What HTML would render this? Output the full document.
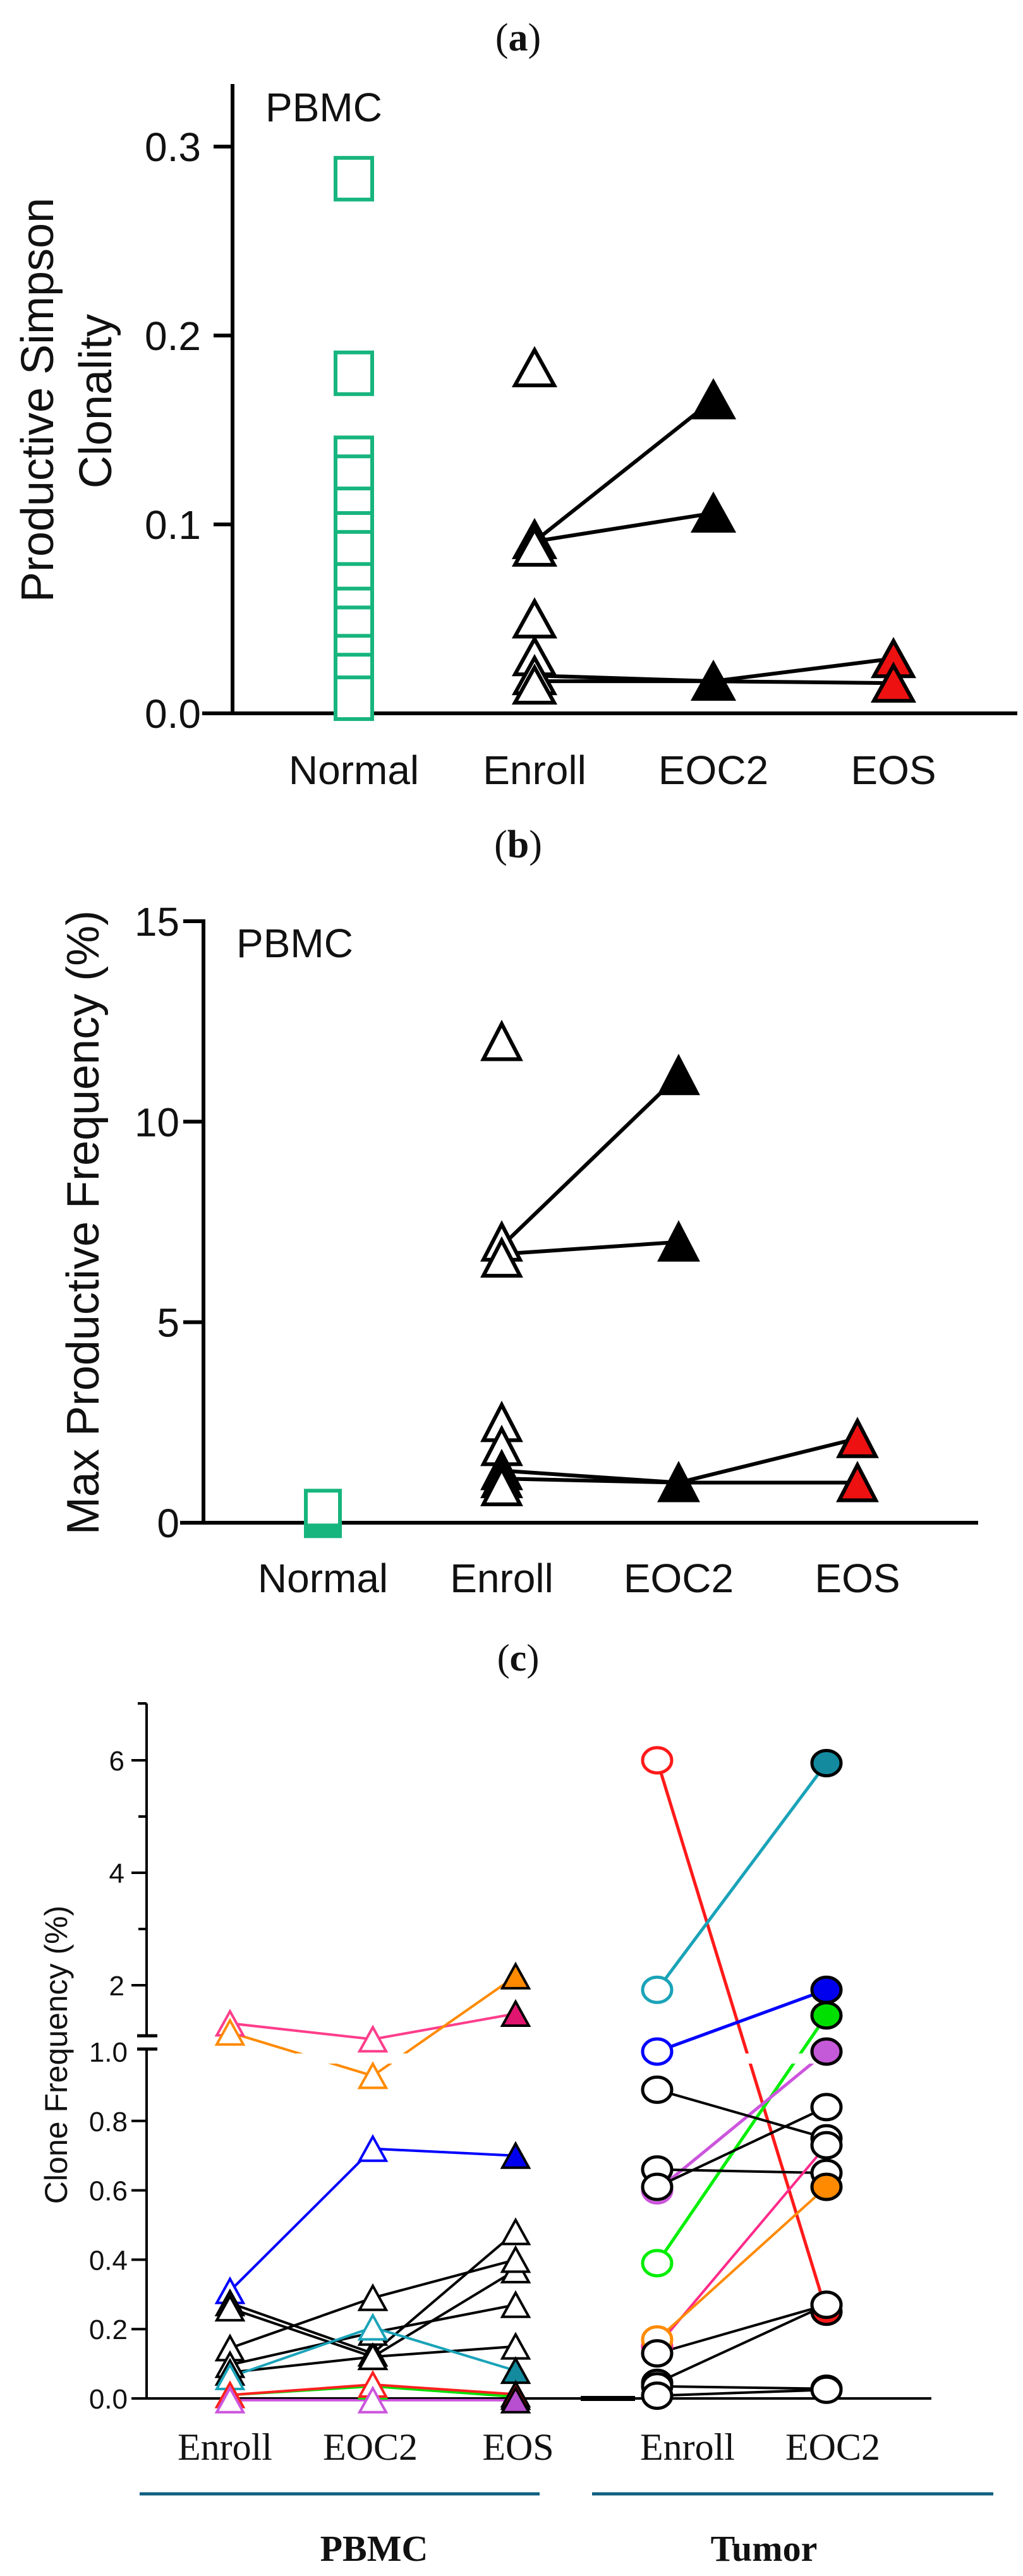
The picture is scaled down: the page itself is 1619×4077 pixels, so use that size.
<!DOCTYPE html>
<html><head><meta charset="utf-8"><style>
html,body{margin:0;padding:0;background:#fff}
svg{display:block}
text{font-family:"Liberation Sans",sans-serif;fill:#111}
.serif{font-family:"Liberation Serif",serif}
</style></head><body>
<svg id="fig" width="1619" height="4077" viewBox="0 0 1619 4077" xmlns="http://www.w3.org/2000/svg">
<g id="pa"></g>
<g id="pb"></g>
<g id="pc"></g>
</svg>
<script>
// ---------- Panel (a) data ----------
const aCategories = ["Normal","Enroll","EOC2","EOS"];
const aTicks = [0,0.1,0.2,0.3];
const aTickLabels = ["0.0","0.1","0.2","0.3"];
const aNormal = [0.283,0.18,0.135,0.125,0.108,0.095,0.085,0.068,0.055,0.045,0.03,0.02,0.008];
const aEnroll = [0.183,0.092,0.088,0.05,0.03,0.02,0.015];
const aEOC2 = [0.166,0.106,0.017];
const aEOS = [0.029,0.016];
const aLinks = [[0.091,0.166,null],[0.091,0.106,null],[0.02,0.017,0.029],[0.017,0.017,0.016]];

// ---------- Panel (b) data ----------
const bCategories = ["Normal","Enroll","EOC2","EOS"];
const bTicks = [0,5,10,15];
const bTickLabels = ["0","5","10","15"];
const bNormal = [0.2];
const bEnroll = [12.0,7.0,6.6,2.5,1.9,1.3,1.1,0.9];
const bEOC2 = [11.15,7.0,1.0];
const bEOS = [2.1,1.0];
const bLinks = [[6.9,11.15,null],[6.7,7.0,null],[1.3,1.0,2.1],[1.1,1.0,1.0]];

// ---------- Panel (c) data ----------
const cCategories = ["Enroll","EOC2","EOS","Enroll","EOC2"];
const cTicksLow = [0,0.2,0.4,0.6,0.8,1.0];
const cTickLabelsLow = ["0.0","0.2","0.4","0.6","0.8","1.0"];
const cTicksHigh = [2,4,6];
const cTickLabelsHigh = ["2","4","6"];
const cMinorHigh = [3,5,7];
// PBMC series: [Enroll, EOC2, EOS]
const cPbmcColors = ["#ff3d8b","#ff8a00","#0000ff","#000","#000","#000","#000","#000","#1aa3b8","#00e000","#ff2020","#cc55dd"];
const cPbmcFill = ["#e0156f","#ff8a00","#0000ee","#fff","#fff","#fff","#fff","#fff","#138a9e","#00c000","#ff2020","#b84fd0"];
const cPbmcValues = [
 [1.33,1.05,1.5],
 [1.17,0.93,2.16],
 [0.31,0.72,0.70],
 [0.275,0.13,0.48],
 [0.26,0.12,0.37],
 [0.145,0.29,0.40],
 [0.097,0.19,0.27],
 [0.075,0.12,0.15],
 [0.062,0.205,0.08],
 [0.01,0.035,0.005],
 [0.01,0.04,0.012],
 [-0.005,-0.005,-0.005]
];
// Tumor series: [Enroll, EOC2]
const cTumColors = ["#ff1a1a","#1aa3b8","#0000ff","#00ee00","#cc55dd","#000","#000","#000","#ff2a8a","#ff8a00","#000","#000","#000","#000"];
const cTumFill = ["#ff1a1a","#138a9e","#0000ee","#00e000","#c55ad8","#fff","#fff","#fff","#fff","#ff8a00","#fff","#fff","#fff","#fff"];
const cTumValues = [
 [6.0,0.25],
 [1.92,5.95],
 [1.0,1.92],
 [0.39,1.47],
 [0.6,1.0],
 [0.89,0.75],
 [0.66,0.65],
 [0.61,0.84],
 [0.15,0.73],
 [0.17,0.61],
 [0.13,0.27],
 [0.045,0.27],
 [0.035,0.028],
 [0.008,0.025]
];

const NS="http://www.w3.org/2000/svg";
function mk(parent,tag,attrs,txt){const e=document.createElementNS(NS,tag);for(const k in attrs)e.setAttribute(k,attrs[k]);if(txt!==undefined)e.textContent=txt;parent.appendChild(e);return e;}
function tri(parent,cx,cy,w,h,fill,stroke,sw){
  const e=mk(parent,'polygon',{points:`${cx},${cy-h/2} ${cx-w/2},${cy+h/2} ${cx+w/2},${cy+h/2}`,fill:fill,stroke:stroke,'stroke-width':sw,'stroke-linejoin':'miter'});
  return e;
}

// ================= Panel A =================
(function(){
  const g=document.getElementById('pa');
  const x0=368, yBase=1129, kY=2990;
  const xs=[560,846,1129,1414];
  const y=v=>yBase-v*kY;
  let t=mk(g,'text',{x:820,y:80,'font-size':62,'text-anchor':'middle',class:'serif'});
  t.innerHTML='(<tspan font-weight="bold">a</tspan>)';
  
  
  let ax=mk(g,'line',{x1:x0,y1:133,x2:x0,y2:yBase+3,stroke:'#000','stroke-width':6});
  
  
  let bx=mk(g,'line',{x1:320,y1:yBase,x2:1610,y2:yBase,stroke:'#000','stroke-width':6});
  
  
  aTicks.forEach((v,i)=>{
    mk(g,'line',{x1:338,y1:y(v),x2:x0,y2:y(v),stroke:'#000','stroke-width':6});
    const tl=mk(g,'text',{x:318,y:y(v)+23,'font-size':64,'text-anchor':'end'},aTickLabels[i]);
    
    
  });
  aCategories.forEach((c,i)=>{
    const tl=mk(g,'text',{x:xs[i],y:1241,'font-size':64,'text-anchor':'middle'},c);
    
    
  });
  let p=mk(g,'text',{x:420,y:192,'font-size':64},'PBMC');
  
  
  let yt=mk(g,'text',{x:0,y:0,'font-size':72,'text-anchor':'middle',transform:'translate(84,633) rotate(-90)'},'Productive Simpson');
  
  
  let yt2=mk(g,'text',{x:0,y:0,'font-size':72,'text-anchor':'middle',transform:'translate(176,635) rotate(-90)'},'Clonality');
  
  
  aLinks.forEach(l=>{
    const pts=[];l.forEach((v,i)=>{if(v!==null)pts.push(`${xs[i+1]},${y(v)}`);});
    const pl=mk(g,'polyline',{points:pts.join(' '),fill:'none',stroke:'#000','stroke-width':6});
    
    
  });
  aNormal.forEach(v=>{
    const r=mk(g,'rect',{x:xs[0]-29,y:y(v)-33,width:58,height:66,fill:'#fff',stroke:'#17b57e','stroke-width':6});
    
    
  });
  aEnroll.forEach(v=>{const e=tri(g,xs[1],y(v),62,56,'#fff','#000',6);
    
    });
  aEOC2.forEach(v=>{const e=tri(g,xs[2],y(v),62,56,'#000','#000',6);
    
    });
  aEOS.forEach(v=>{const e=tri(g,xs[3],y(v),62,56,'#ee1111','#000',6);
    
    });
})();

// ================= Panel B =================
(function(){
  const g=document.getElementById('pb');
  const x0=322, yBase=2410, kY=63.47;
  const xs=[511,794,1074,1357];
  const y=v=>yBase-v*kY;
  let t=mk(g,'text',{x:820,y:1357,'font-size':62,'text-anchor':'middle',class:'serif'});
  t.innerHTML='(<tspan font-weight="bold">b</tspan>)';
  
  
  let ax=mk(g,'line',{x1:x0,y1:1455,x2:x0,y2:yBase+3,stroke:'#000','stroke-width':6});
  
  
  let bx=mk(g,'line',{x1:285,y1:yBase,x2:1548,y2:yBase,stroke:'#000','stroke-width':6});
  
  
  bTicks.forEach((v,i)=>{
    mk(g,'line',{x1:290,y1:y(v),x2:x0,y2:y(v),stroke:'#000','stroke-width':6});
    const tl=mk(g,'text',{x:284,y:y(v)+23,'font-size':64,'text-anchor':'end'},bTickLabels[i]);
    
    
  });
  bCategories.forEach((c,i)=>{
    const tl=mk(g,'text',{x:xs[i],y:2520,'font-size':64,'text-anchor':'middle'},c);
    
    
  });
  let p=mk(g,'text',{x:374,y:1515,'font-size':64},'PBMC');
  
  
  let yt=mk(g,'text',{x:0,y:0,'font-size':72,'text-anchor':'middle',transform:'translate(156,1935) rotate(-90)'},'Max Productive Frequency (%)');
  
  
  bLinks.forEach(l=>{
    const pts=[];l.forEach((v,i)=>{if(v!==null)pts.push(`${xs[i+1]},${y(v)}`);});
    const pl=mk(g,'polyline',{points:pts.join(' '),fill:'none',stroke:'#000','stroke-width':6});
    
    
  });
  bNormal.forEach(v=>{
    const r=mk(g,'rect',{x:xs[0]-27,y:y(v)-38,width:54,height:72,fill:'#fff',stroke:'#17b57e','stroke-width':6});
    
    
    const f=mk(g,'rect',{x:xs[0]-27,y:y(v)+14,width:54,height:20,fill:'#17b57e'});
    
    
  });
  bEnroll.forEach(v=>{const e=tri(g,xs[1],y(v),58,56,'#fff','#000',6);
    
    });
  bEOC2.forEach(v=>{const e=tri(g,xs[2],y(v),58,56,'#000','#000',6);
    
    });
  bEOS.forEach(v=>{const e=tri(g,xs[3],y(v),58,56,'#ee1111','#000',6);
    
    });
})();

// ================= Panel C =================
(function(){
  const g=document.getElementById('pc');
  const x0=232, yBase=3796;
  const xs=[364,590,816,1040,1308];
  const y=v=>{ if(v<=1) return yBase-v*549; if(v<=2) return 3232-(v-1)*90; return 3142-(v-2)*89; };
  let t=mk(g,'text',{x:820,y:2644,'font-size':60,'text-anchor':'middle',class:'serif'});
  t.innerHTML='(<tspan font-weight="bold">c</tspan>)';
  
  
  // y axis (broken)
  let ax1=mk(g,'line',{x1:x0,y1:2696,x2:x0,y2:3222,stroke:'#000','stroke-width':4});
  
  
  let ax2=mk(g,'line',{x1:x0,y1:3243,x2:x0,y2:yBase,stroke:'#000','stroke-width':4});
  
  
  mk(g,'line',{x1:218,y1:2696,x2:x0,y2:2696,stroke:'#000','stroke-width':4});
  mk(g,'line',{x1:217,y1:3222,x2:249,y2:3222,stroke:'#000','stroke-width':5});
  mk(g,'line',{x1:217,y1:3243,x2:249,y2:3243,stroke:'#000','stroke-width':5});
  let bx=mk(g,'line',{x1:213,y1:yBase,x2:1474,y2:yBase,stroke:'#000','stroke-width':4});
  
  
  mk(g,'line',{x1:919,y1:yBase,x2:1005,y2:yBase,stroke:'#000','stroke-width':8});
  cTicksLow.forEach((v,i)=>{
    if(v<1) mk(g,'line',{x1:208,y1:y(v),x2:x0,y2:y(v),stroke:'#000','stroke-width':4});
    const tl=mk(g,'text',{x:202,y:y(v)+16,'font-size':44,'text-anchor':'end'},cTickLabelsLow[i]);
    
    
  });
  cTicksHigh.forEach((v,i)=>{
    mk(g,'line',{x1:208,y1:y(v),x2:x0,y2:y(v),stroke:'#000','stroke-width':4});
    const tl=mk(g,'text',{x:197,y:y(v)+16,'font-size':44,'text-anchor':'end'},cTickLabelsHigh[i]);
    
    
  });
  cMinorHigh.forEach(v=>{ if(v<7) mk(g,'line',{x1:219,y1:y(v),x2:x0,y2:y(v),stroke:'#000','stroke-width':4}); });
  let yt=mk(g,'text',{x:0,y:0,'font-size':50,'text-anchor':'middle',transform:'translate(106,3252) rotate(-90)'},'Clone Frequency (%)');
  
  
  const labX=[356,586,820,1088,1318];
  cCategories.forEach((c,i)=>{
    const tl=mk(g,'text',{x:labX[i],y:3893,'font-size':60,'text-anchor':'middle',class:'serif'},c);
    
    
  });
  let gl1=mk(g,'line',{x1:221,y1:3947,x2:854,y2:3947,stroke:'#0f5f80','stroke-width':5});
  
  
  let gl2=mk(g,'line',{x1:937,y1:3947,x2:1572,y2:3947,stroke:'#0f5f80','stroke-width':5});
  
  
  let g1=mk(g,'text',{x:592,y:4053,'font-size':58,'font-weight':'bold','text-anchor':'middle',class:'serif'},'PBMC');
  
  
  let g2=mk(g,'text',{x:1209,y:4053,'font-size':58,'font-weight':'bold','text-anchor':'middle',class:'serif'},'Tumor');
  
  
  // lines
  cPbmcValues.forEach((vals,s)=>{
    const pts=vals.map((v,i)=>`${xs[i]},${y(v)}`).join(' ');
    const pl=mk(g,'polyline',{points:pts,fill:'none',stroke:cPbmcColors[s],'stroke-width':4});
    
    
  });
  cTumValues.forEach((vals,s)=>{
    const pts=vals.map((v,i)=>`${xs[3+i]},${y(v)}`).join(' ');
    const pl=mk(g,'polyline',{points:pts,fill:'none',stroke:cTumColors[s],'stroke-width':s<5?5:4});
    
    
  });
  // axis break band
  mk(g,'rect',{x:420,y:3250,width:1000,height:16,fill:'#fff'});
  // markers
  cPbmcValues.forEach((vals,s)=>{
    vals.forEach((v,i)=>{
      const filled=i===2;
      const e=tri(g,xs[i],y(v),42,38,filled?cPbmcFill[s]:'#fff',filled?'#000':cPbmcColors[s],4);
      
      
    });
  });
  cTumValues.forEach((vals,s)=>{
    vals.forEach((v,i)=>{
      const filled=i===1;
      const e=mk(g,'ellipse',{cx:xs[3+i],cy:y(v),rx:23,ry:20,fill:filled?cTumFill[s]:'#fff',stroke:filled?'#000':cTumColors[s],'stroke-width':5});
      
      
    });
  });
})();
</script>
</body></html>
